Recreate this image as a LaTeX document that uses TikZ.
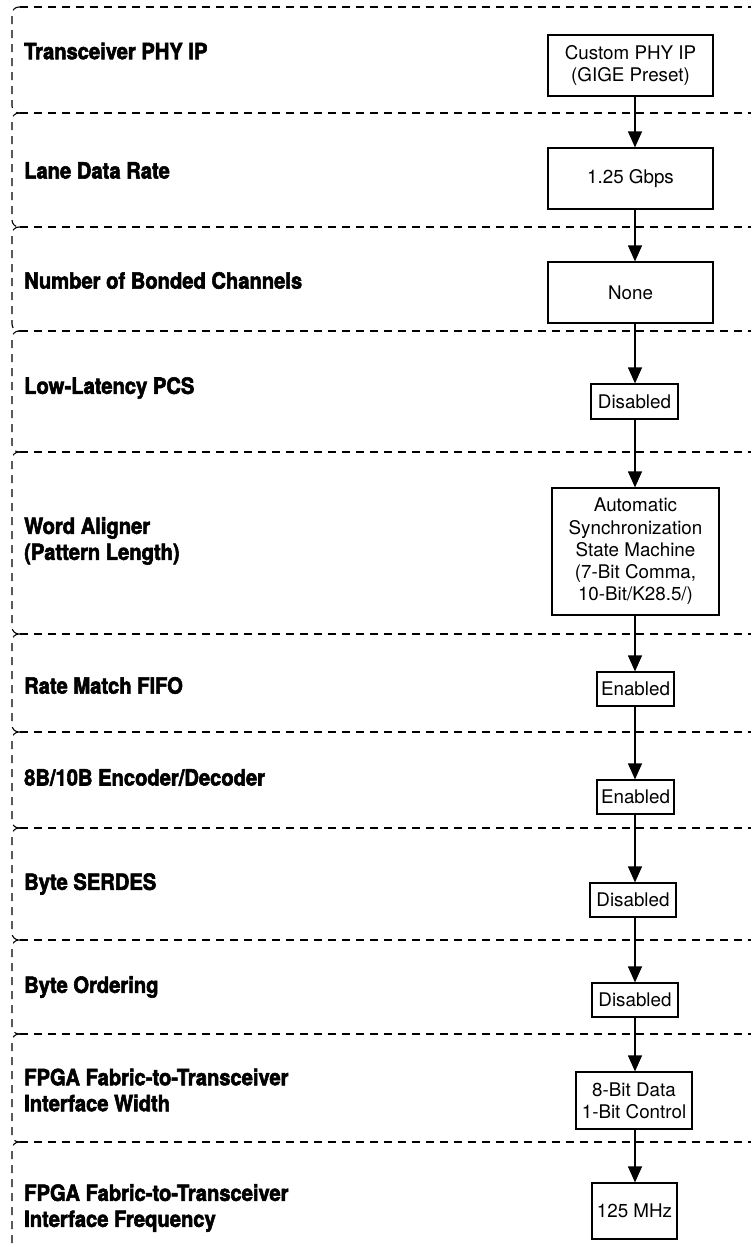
\documentclass[tikz,border=0pt]{standalone}
\usepackage{fontspec}
\setmainfont{TeX Gyre Heros}
\newfontfamily\labelfont{TeX Gyre Heros}[FakeStretch=0.9,BoldFeatures={FakeBold=2.5}]
\usepackage{tikz}
\usetikzlibrary{arrows.meta}
\usetikzlibrary{positioning}
\tikzset{setbox/.style={rectangle,draw=black,line width=1.2pt,align=center,inner sep=2pt,font=\fontsize{18.8}{22.2}\selectfont}}
\tikzset{rowlabel/.style={anchor=west,align=left,inner sep=0pt,font=\labelfont\bfseries\fontsize{22.4}{26}\selectfont}}
\tikzset{bandline/.style={dash pattern=on 8pt off 6pt,line width=1.1pt}}
\tikzset{flow/.style={-{Triangle[length=16pt,width=14pt]},line width=1.2pt}}

\begin{document}
\begin{tikzpicture}[x=1pt,y=-1pt]
\useasboundingbox (0,0) rectangle (751,1247);
\clip (0,0) rectangle (751,1247);

% dashed bands, open to the right
\foreach \top/\bot in {7/113,113/227,227/331,331/452,452/634,634/732,732/828,828/940,940/1034,1034/1142,1142/1254}
  \draw[bandline, rounded corners=7pt] (20,\top) -- (12,\top) -- (12,\bot) -- (20,\bot);
\foreach \y in {7,113,227,331,452,634,732,828,940,1034,1142}
  \draw[bandline] (20,\y) -- (751,\y);

% row labels
\node[rowlabel] (lphy) at (24,51) {Transceiver PHY IP};
\node[rowlabel] (lrate) at (24,170.5) {Lane Data Rate};
\node[rowlabel] (lbond) at (24,280.5) {Number of Bonded Channels};
\node[rowlabel] (llat) at (24,388) {Low-Latency PCS};
\node[rowlabel] (lalign) at (24,541) {Word Aligner\\(Pattern Length)};
\node[rowlabel] (lfifo) at (24,685.5) {Rate Match FIFO};
\node[rowlabel] (lcode) at (24,777.5) {8B/10B Encoder/Decoder};
\node[rowlabel] (lserdes) at (24,884) {Byte SERDES};
\node[rowlabel] (lorder) at (24,987) {Byte Ordering};
\node[rowlabel] (lwidth) at (24,1090) {FPGA Fabric-to-Transceiver\\Interface Width};
\node[rowlabel] (lfreq) at (24,1208) {FPGA Fabric-to-Transceiver\\Interface Frequency};

% setting boxes
\node[setbox, minimum width=165pt, minimum height=61pt] (phy) at (630.5,65.5) {Custom PHY IP\\(GIGE Preset)};
\node[setbox, minimum width=165pt, minimum height=61pt] (rate) at (630.5,178.5) {1.25 Gbps};
\node[setbox, minimum width=165pt, minimum height=61pt] (bond) at (630.5,292.5) {None};
\node[setbox, minimum width=87pt, minimum height=35pt] (lat) at (634.5,401.5) {Disabled};
\node[setbox, minimum width=167pt, minimum height=127pt] (align) at (635.5,551.5) {Automatic\\Synchronization\\State Machine\\(7-Bit Comma,\\10-Bit/K28.5/)};
\node[setbox, minimum width=77pt, minimum height=34pt] (fifo) at (635.5,689) {Enabled};
\node[setbox, minimum width=77pt, minimum height=34pt] (code) at (635.5,797) {Enabled};
\node[setbox, minimum width=86pt, minimum height=34pt] (serdes) at (633,900) {Disabled};
\node[setbox, minimum width=86pt, minimum height=34pt] (order) at (635,1000) {Disabled};
\node[setbox, minimum width=116pt, minimum height=57pt] (width) at (634,1100.5) {8-Bit Data\\1-Bit Control};
\node[setbox, minimum width=85pt, minimum height=56pt] (freq) at (634.5,1211) {125 MHz};

% flow arrows
\coordinate (spine) at (635,0);
\draw[flow] (phy.south -| spine) -- (rate.north -| spine);
\draw[flow] (rate.south -| spine) -- (bond.north -| spine);
\draw[flow] (bond.south -| spine) -- (lat.north -| spine);
\draw[flow] (lat.south -| spine) -- (align.north -| spine);
\draw[flow] (align.south -| spine) -- (fifo.north -| spine);
\draw[flow] (fifo.south -| spine) -- (code.north -| spine);
\draw[flow] (code.south -| spine) -- (serdes.north -| spine);
\draw[flow] (serdes.south -| spine) -- (order.north -| spine);
\draw[flow] (order.south -| spine) -- (width.north -| spine);
\draw[flow] (width.south -| spine) -- (freq.north -| spine);
\end{tikzpicture}
\end{document}
